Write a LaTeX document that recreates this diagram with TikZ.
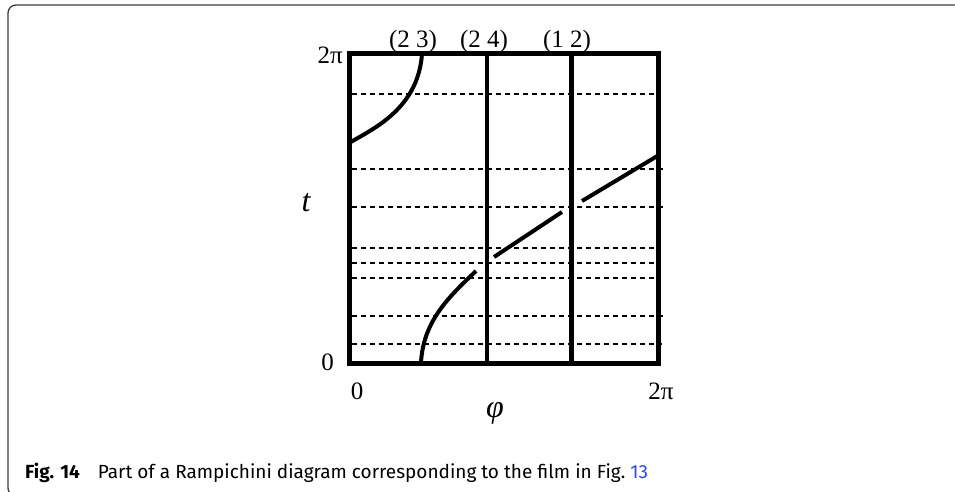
\documentclass[tikz,border=0pt]{standalone}
\usepackage{fontspec}
\setmainfont{Liberation Serif}
\newfontfamily\capfont{Fira Sans}
\definecolor{figblue}{RGB}{45,70,235}
\definecolor{framegray}{RGB}{60,60,60}

\begin{document}
\begin{tikzpicture}[x = 1pt, y = -1pt,
    outline/.style = {draw = framegray, line width = 1.3pt, rounded corners = 8pt},
    box/.style = {line width = 5pt},
    wall/.style = {line width = 4.3pt},
    strand/.style = {line width = 4pt},
    level/.style = {line width = 1.5pt, dash pattern = on 5pt off 4pt},
    lab/.style = {font = \fontsize{25}{30}\selectfont, inner sep = 0pt},
    axis/.style = {font = \fontsize{32}{36}\selectfont\itshape, inner sep = 0pt}]
    \useasboundingbox (0,0) rectangle (955,492);
    \begin{scope}
      \clip (0,0) rectangle (955,492);
      \draw [outline] (8,5) rectangle (975,496);
    \end{scope}
    \foreach \y/\e in {94/655, 169/663, 207/663, 248/655, 263/655, 278/655, 316/665, 344/662}
      \draw [level] (352,\y) -- (\e,\y);
    \foreach \x in {487, 571.5}
      \draw [wall] (\x,54) -- (\x,363);
    \draw [box] (349,54) rectangle (658,363);
    \draw [strand] (349,143) .. controls (375,128) and (418,108) .. (422,54);
    \draw [strand] (421,363) .. controls (423,320) and (451,295) .. (476,271);
    \draw [strand] (494,257) -- (562,212);
    \draw [strand] (582,201) -- (659,155);
    \foreach \x/\name/\txt in {413/s23/{(2 3)}, 484/s24/{(2 4)}, 567/s12/{(1 2)}}
      \node [lab, anchor = base] (\name) at (\x,48) {\txt};
    \node [lab, anchor = base east] (ttop) at (343,64) {2π};
    \node [lab, anchor = base east] (tbot) at (334,370) {0};
    \node [lab, anchor = base] (pleft) at (357,399) {0};
    \node [lab, anchor = base] (pright) at (661,399) {2π};
    \node [axis, anchor = base] (tlab) at (306,211) {t};
    \node [axis] (philab) at (495,413) {φ};
    \node [anchor = base west, inner sep = 0pt, font = \capfont\fontsize{19}{22}\selectfont] (cap) at (25,478)
      {\textbf{Fig. 14}\hspace{18pt}Part of a Rampichini diagram corresponding to the film in Fig.~\textcolor{figblue}{13}};
\end{tikzpicture}
\end{document}
